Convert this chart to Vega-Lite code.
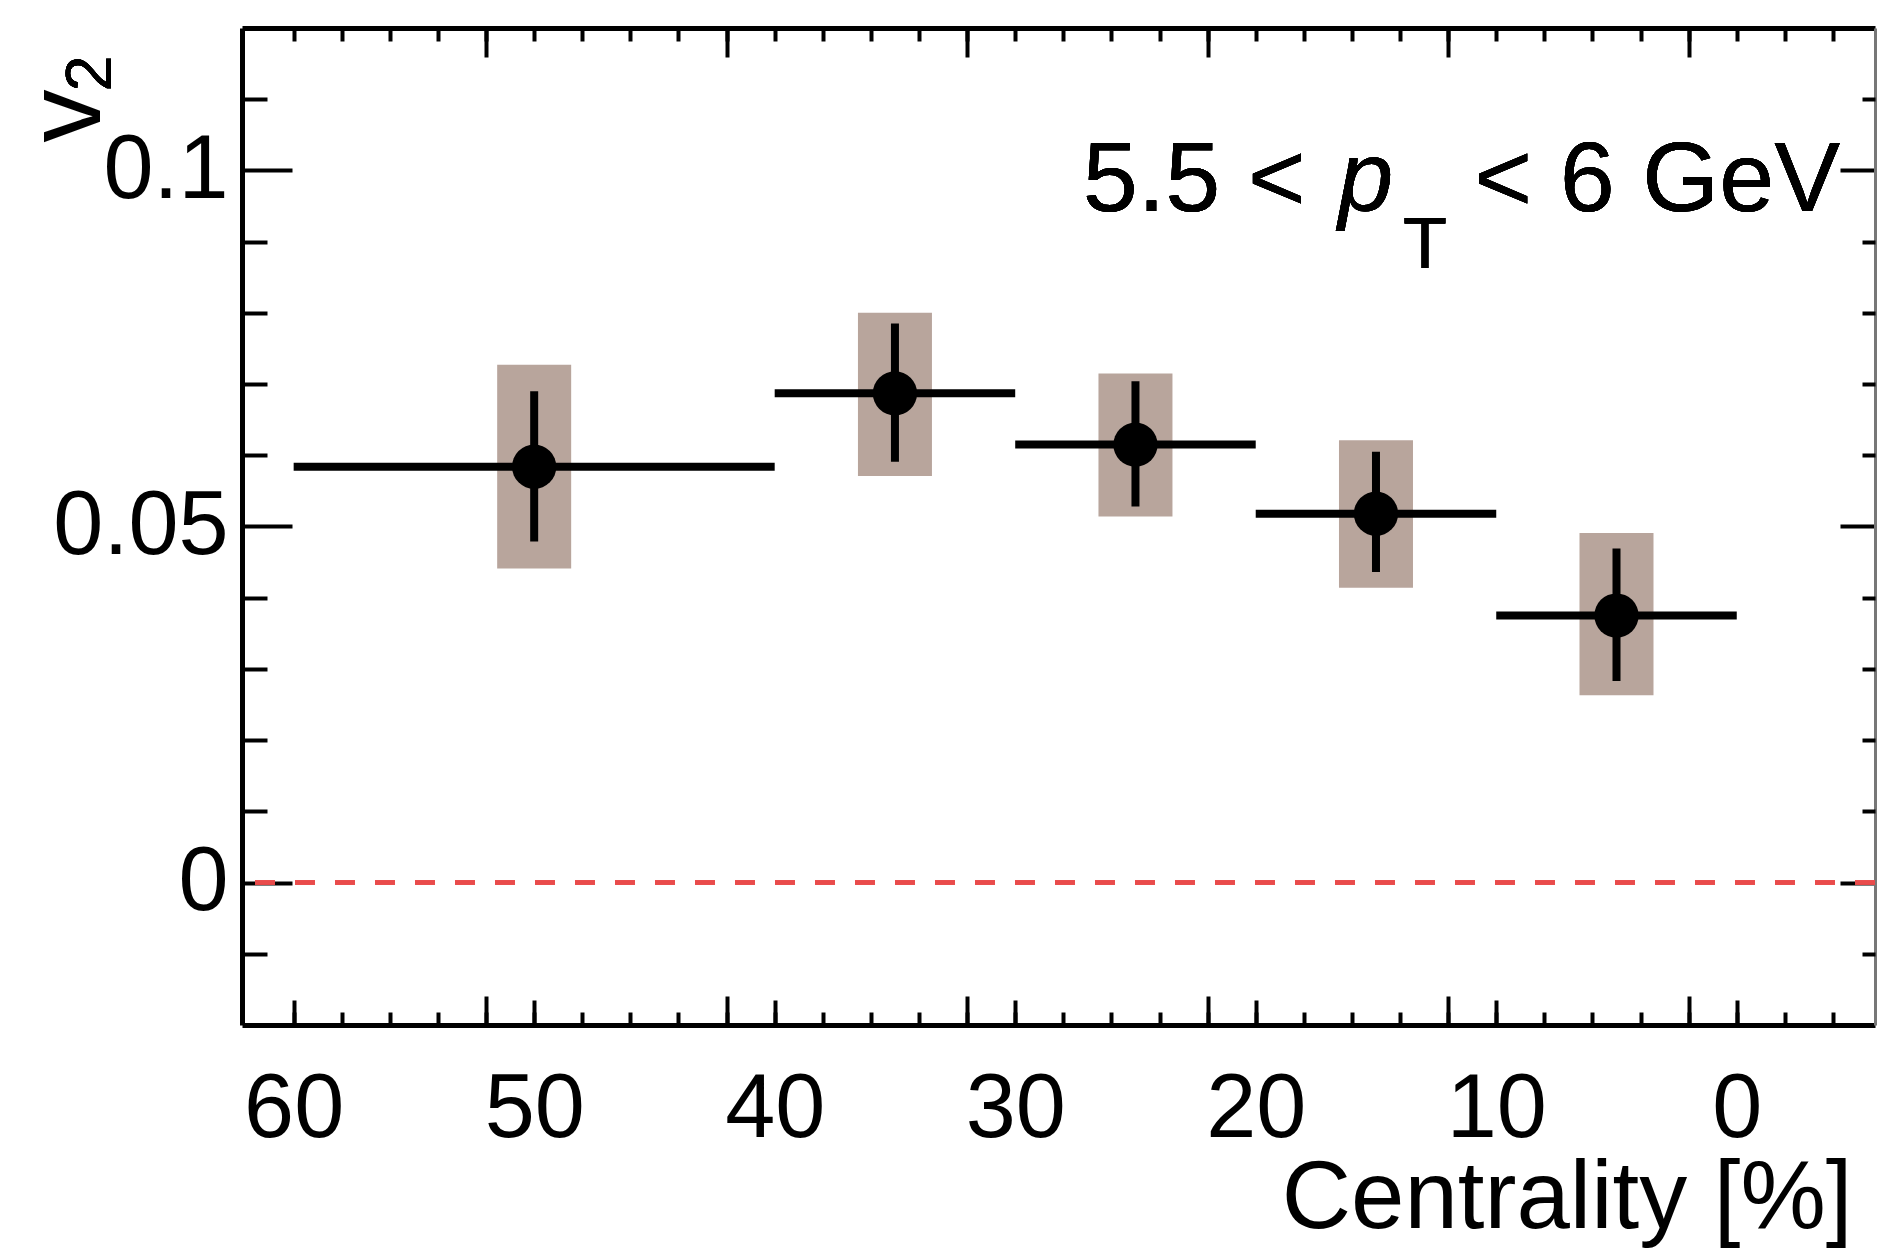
{
  "$schema": "https://vega.github.io/schema/vega-lite/v6.json",
  "width": 1633,
  "height": 997,
  "autosize": {"type": "none"},
  "padding": {"left": 242, "top": 28, "right": 5, "bottom": 224},
  "background": "white",
  "config": {
    "view": {"stroke": null},
    "axis": {"grid": false, "labelFont": "Liberation Sans", "titleFont": "Liberation Sans", "labelColor": "black", "titleColor": "black", "tickColor": "black", "domainColor": "black", "titleFontWeight": "normal"},
    "text": {"font": "Liberation Sans", "color": "black"}
  },
  "data": {
    "values": [
      {"cent": 50, "cent_lo": 60, "cent_hi": 40, "v2": 0.0584, "stat_lo": 0.0479, "stat_hi": 0.0690, "sys_lo": 0.0441, "sys_hi": 0.0727},
      {"cent": 35, "cent_lo": 40, "cent_hi": 30, "v2": 0.0687, "stat_lo": 0.0591, "stat_hi": 0.0785, "sys_lo": 0.0571, "sys_hi": 0.0800},
      {"cent": 25, "cent_lo": 30, "cent_hi": 20, "v2": 0.0615, "stat_lo": 0.0528, "stat_hi": 0.0704, "sys_lo": 0.0514, "sys_hi": 0.0715},
      {"cent": 15, "cent_lo": 20, "cent_hi": 10, "v2": 0.0518, "stat_lo": 0.0436, "stat_hi": 0.0605, "sys_lo": 0.0414, "sys_hi": 0.0621},
      {"cent": 5, "cent_lo": 10, "cent_hi": 0, "v2": 0.0375, "stat_lo": 0.0283, "stat_hi": 0.0469, "sys_lo": 0.0263, "sys_hi": 0.0491}
    ]
  },
  "resolve": {"axis": {"x": "independent", "y": "independent"}},
  "layer": [
    {
      "mark": {"type": "rule", "color": "#e94b4b", "strokeWidth": 4, "strokeDash": [20, 20]},
      "encoding": {
        "y": {"datum": 0, "type": "quantitative",
          "scale": {"domain": [-0.02, 0.12], "zero": false, "nice": false},
          "axis": {"orient": "left", "values": [0, 0.05, 0.1], "format": "~g", "tickSize": -50, "tickWidth": 4,
            "labelFontSize": 90, "labelPadding": 64, "domain": true, "domainWidth": 5,
            "title": "v", "titleFontSize": 106, "titleAngle": 270, "titleAlign": "left", "titleBaseline": "alphabetic",
            "titleX": -143, "titleY": 114}}
      }
    },
    {
      "mark": {"type": "bar", "color": "#b8a59c", "width": 74},
      "encoding": {
        "x": {"field": "cent", "type": "quantitative",
          "scale": {"domain": [-5.54, 61.94], "reverse": true, "zero": false, "nice": false},
          "axis": {"orient": "bottom", "values": [0, 10, 20, 30, 40, 50, 60], "format": "d", "tickSize": -25, "tickWidth": 4,
            "labelFontSize": 90, "labelPadding": 65, "domain": true, "domainWidth": 5,
            "title": "Centrality [%]", "titleFontSize": 96, "titleAlign": "right", "titleBaseline": "alphabetic",
            "titleX": 1610, "titleY": 202}},
        "y": {"field": "sys_lo", "type": "quantitative", "scale": {"domain": [-0.02, 0.12], "zero": false, "nice": false}, "axis": null},
        "y2": {"field": "sys_hi"}
      }
    },
    {
      "mark": {"type": "rule", "color": "black", "strokeWidth": 8},
      "encoding": {
        "x": {"field": "cent_lo", "type": "quantitative",
          "scale": {"domain": [-5.54, 61.94], "reverse": true, "zero": false, "nice": false},
          "axis": {"orient": "top", "values": [2, 12, 22, 32, 42, 52], "tickSize": -29, "tickWidth": 4, "labels": false,
            "domain": true, "domainWidth": 5, "title": null}},
        "x2": {"field": "cent_hi"},
        "y": {"field": "v2", "type": "quantitative",
          "scale": {"domain": [-0.02, 0.12], "zero": false, "nice": false},
          "axis": {"orient": "right", "values": [0, 0.05, 0.1], "tickSize": -35, "tickWidth": 4, "labels": false,
            "domain": true, "domainWidth": 3, "domainColor": "#777777", "title": null}}
      }
    },
    {
      "mark": {"type": "rule", "color": "black", "strokeWidth": 8},
      "encoding": {
        "x": {"field": "cent", "type": "quantitative",
          "scale": {"domain": [-5.54, 61.94], "reverse": true, "zero": false, "nice": false},
          "axis": {"orient": "bottom", "values": [2, 12, 22, 32, 42, 52], "tickSize": -29, "tickWidth": 4, "labels": false,
            "domain": false, "title": null}},
        "y": {"field": "stat_lo", "type": "quantitative",
          "scale": {"domain": [-0.02, 0.12], "zero": false, "nice": false},
          "axis": {"orient": "left", "values": [-0.01, 0.01, 0.02, 0.03, 0.04, 0.06, 0.07, 0.08, 0.09, 0.11], "tickSize": -25, "tickWidth": 4,
            "labels": false, "domain": false, "title": null}},
        "y2": {"field": "stat_hi"}
      }
    },
    {
      "mark": {"type": "point", "shape": "circle", "filled": true, "color": "black", "opacity": 1, "size": 1960},
      "encoding": {
        "x": {"field": "cent", "type": "quantitative",
          "scale": {"domain": [-5.54, 61.94], "reverse": true, "zero": false, "nice": false},
          "axis": {"orient": "bottom", "values": [-4, -2, 0, 2, 4, 6, 8, 10, 12, 14, 16, 18, 20, 22, 24, 26, 28, 30, 32, 34, 36, 38, 40, 42, 44, 46, 48, 50, 52, 54, 56, 58, 60],
            "tickSize": -13, "tickWidth": 4, "labels": false, "domain": false, "title": null}},
        "y": {"field": "v2", "type": "quantitative",
          "scale": {"domain": [-0.02, 0.12], "zero": false, "nice": false},
          "axis": {"orient": "right", "values": [-0.01, 0.01, 0.02, 0.03, 0.04, 0.06, 0.07, 0.08, 0.09, 0.11], "tickSize": -13, "tickWidth": 4,
            "labels": false, "domain": false, "title": null}}
      }
    },
    {
      "mark": {"type": "text", "text": "5.5 <", "fontSize": 99, "align": "left", "baseline": "alphabetic"},
      "encoding": {
        "x": {"datum": 27.19, "type": "quantitative",
          "scale": {"domain": [-5.54, 61.94], "reverse": true, "zero": false, "nice": false},
          "axis": {"orient": "top", "values": [-4, -2, 0, 2, 4, 6, 8, 10, 12, 14, 16, 18, 20, 22, 24, 26, 28, 30, 32, 34, 36, 38, 40, 42, 44, 46, 48, 50, 52, 54, 56, 58, 60],
            "tickSize": -13, "tickWidth": 4, "labels": false, "domain": false, "title": null}},
        "y": {"datum": 0.0943, "type": "quantitative", "scale": {"domain": [-0.02, 0.12], "zero": false, "nice": false}, "axis": null}
      }
    },
    {
      "mark": {"type": "text", "text": "p", "fontSize": 99, "fontStyle": "italic", "align": "left", "baseline": "alphabetic"},
      "encoding": {
        "x": {"datum": 16.57, "type": "quantitative", "scale": {"domain": [-5.54, 61.94], "reverse": true, "zero": false, "nice": false}, "axis": null},
        "y": {"datum": 0.0943, "type": "quantitative", "scale": {"domain": [-0.02, 0.12], "zero": false, "nice": false}, "axis": null}
      }
    },
    {
      "mark": {"type": "text", "text": "T", "fontSize": 72, "align": "left", "baseline": "alphabetic"},
      "encoding": {
        "x": {"datum": 13.88, "type": "quantitative", "scale": {"domain": [-5.54, 61.94], "reverse": true, "zero": false, "nice": false}, "axis": null},
        "y": {"datum": 0.0863, "type": "quantitative", "scale": {"domain": [-0.02, 0.12], "zero": false, "nice": false}, "axis": null}
      }
    },
    {
      "mark": {"type": "text", "text": "< 6 GeV", "fontSize": 99, "align": "left", "baseline": "alphabetic"},
      "encoding": {
        "x": {"datum": 10.91, "type": "quantitative", "scale": {"domain": [-5.54, 61.94], "reverse": true, "zero": false, "nice": false}, "axis": null},
        "y": {"datum": 0.0943, "type": "quantitative", "scale": {"domain": [-0.02, 0.12], "zero": false, "nice": false}, "axis": null}
      }
    },
    {
      "mark": {"type": "text", "text": "2", "fontSize": 65, "angle": 270, "align": "left", "baseline": "alphabetic"},
      "encoding": {
        "x": {"datum": 67.6, "type": "quantitative", "scale": {"domain": [-5.54, 61.94], "reverse": true, "zero": false, "nice": false}, "axis": null},
        "y": {"datum": 0.1111, "type": "quantitative", "scale": {"domain": [-0.02, 0.12], "zero": false, "nice": false}, "axis": null}
      }
    }
  ]
}
